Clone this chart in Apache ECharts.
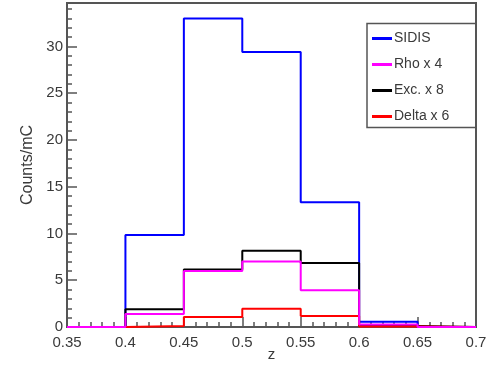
<!DOCTYPE html>
<html>
<head>
<meta charset="utf-8">
<script src="https://cdn.jsdelivr.net/npm/echarts@6/dist/echarts.min.js"></script>
<style>
  html, body { margin: 0; padding: 0; background: #fff; }
  #chart { width: 498px; height: 366px; }
</style>
</head>
<body>
<div id="chart"></div>
<script>
// Bin edges (z)
const binEdges = [0.35, 0.4, 0.45, 0.5, 0.55, 0.6, 0.65, 0.7];
// Bin contents (Counts/mC)
const sidis = [0, 9.85, 33.0, 29.4, 13.35, 0.57, 0];
const rhoX4 = [0, 1.38, 6.0, 7.0, 3.93, 0.28, 0];
const excX8 = [0, 1.9, 6.15, 8.15, 6.85, 0.1, 0];
const deltaX6 = [0, 0.12, 1.07, 1.95, 1.18, 0.05, 0];
const seriesNames = ['SIDIS', 'Rho x 4', 'Exc. x 8', 'Delta x 6'];
const xTicks = [0.35, 0.4, 0.45, 0.5, 0.55, 0.6, 0.65, 0.7];
const yTicks = [0, 5, 10, 15, 20, 25, 30];

function stepData(values) {
  const pts = [];
  for (let i = 0; i < values.length; i++) {
    pts.push([binEdges[i], values[i]]);
    pts.push([binEdges[i + 1], values[i]]);
  }
  return pts;
}

const FONT = 'Liberation Sans, Arial, Helvetica, sans-serif';
const TXT = '#3a3a3a';

function mkSeries(name, values, color, z) {
  return {
    name: name,
    type: 'line',
    data: stepData(values),
    showSymbol: false,
    symbol: 'none',
    clip: false,
    lineStyle: { color: color, width: 2 },
    itemStyle: { color: color },
    z: z,
    zlevel: 1,
    animation: false
  };
}

const chart = echarts.init(document.getElementById('chart'), null, { renderer: 'canvas' });
chart.setOption({
  animation: false,
  backgroundColor: '#fff',
  grid: {
    left: 67, right: 22, top: 3, bottom: 39,
    outerBoundsMode: 'none', containLabel: false,
    show: true, borderColor: '#555', borderWidth: 2, backgroundColor: 'transparent'
  },
  xAxis: {
    type: 'value',
    min: xTicks[0], max: xTicks[xTicks.length - 1], interval: 0.05,
    name: 'z', nameLocation: 'middle', nameGap: 20, nameMoveOverlap: false,
    nameTextStyle: { fontFamily: FONT, fontSize: 15, color: TXT },
    axisLine: { show: true, onZero: false, lineStyle: { color: '#555', width: 2 } },
    axisTick: { show: true, inside: true, length: 10, lineStyle: { color: '#555', width: 1.5 } },
    minorTick: { show: true, splitNumber: 5, length: 5, lineStyle: { color: '#555', width: 1.5 } },
    splitLine: { show: false },
    axisLabel: {
      fontFamily: FONT, fontSize: 15, color: TXT, margin: 8,
      formatter: v => {
        const t = xTicks.find(x => Math.abs(x - v) < 1e-6);
        return t === undefined ? '' : String(t);
      }
    }
  },
  yAxis: {
    type: 'value',
    min: 0, max: 34.65, interval: 5,
    name: 'Counts/mC', nameLocation: 'middle', nameGap: 31, nameRotate: 90, nameMoveOverlap: false,
    nameTextStyle: { fontFamily: FONT, fontSize: 16, color: TXT },
    axisLine: { show: true, lineStyle: { color: '#555', width: 2 } },
    axisTick: { show: true, inside: true, length: 10, lineStyle: { color: '#555', width: 1.5 } },
    minorTick: { show: true, splitNumber: 5, length: 5, lineStyle: { color: '#555', width: 1.5 } },
    splitLine: { show: false },
    axisLabel: {
      fontFamily: FONT, fontSize: 15, color: TXT, margin: 4,
      formatter: v => {
        const t = yTicks.find(y => Math.abs(y - v) < 1e-6);
        return t === undefined ? '' : String(t);
      }
    }
  },
  legend: {
    orient: 'vertical',
    left: 372, top: 30,
    data: seriesNames,
    icon: 'rect',
    itemWidth: 20, itemHeight: 3,
    itemGap: 9,
    padding: 0,
    textStyle: { fontFamily: FONT, fontSize: 14, color: TXT, lineHeight: 17, padding: [0, 0, 0, -3] },
    selectedMode: false
  },
  graphic: [{
    type: 'rect',
    shape: { x: 367, y: 23.5, width: 109, height: 104 },
    style: { fill: 'transparent', stroke: '#555', lineWidth: 1.5 },
    z: 50
  }],
  series: [
    mkSeries(seriesNames[0], sidis, '#0000ff', 2),
    mkSeries(seriesNames[2], excX8, '#000000', 3),
    mkSeries(seriesNames[3], deltaX6, '#ff0000', 4),
    mkSeries(seriesNames[1], rhoX4, '#ff00ff', 5)
  ]
});
</script>
</body>
</html>
